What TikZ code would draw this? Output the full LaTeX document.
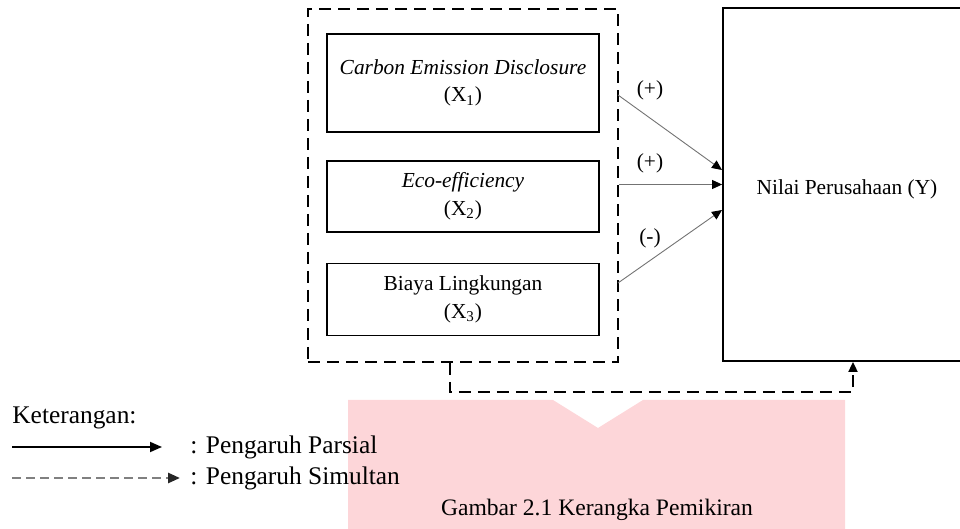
\documentclass[tikz,border=0pt]{standalone}
\usepackage{fontspec}
\setmainfont{Liberation Serif}
\usetikzlibrary{arrows.meta,positioning}
\definecolor{wmpink}{RGB}{253,214,217}

\begin{document}
\begin{tikzpicture}[
  x=0.5pt, y=-0.5pt,
  font=\fontsize{10.7}{13.8}\selectfont,
  node distance=14pt,
  box/.style={draw, line width=0.9pt, align=center, minimum width=136pt, minimum height=36pt, inner sep=0pt},
  dbox/.style={draw, line width=0.9pt, dash pattern=on 6pt off 3.5pt, minimum width=155pt, minimum height=176.5pt, inner sep=0pt},
  arrow/.style={-{Triangle[length=5pt,width=4.5pt,color=black]}, draw=black!55, line width=0.45pt},
  simarrow/.style={-{Triangle[length=5pt,width=4.5pt]}, line width=0.9pt, dash pattern=on 6pt off 3.5pt},
  legtext/.style={anchor=west, inner sep=0pt, font=\fontsize{12.7}{15}\selectfont}
]
\clip (0,0) rectangle (960,529);
% watermark
\fill[wmpink] (348,400) -- (553,400) -- (598,428) -- (643,400) -- (845,400) -- (845,529) -- (348,529) -- cycle;

\node[dbox] (outer) at (463,185.5) {};
\node[box, minimum height=49pt] (x1) at (463,83) {\textit{Carbon Emission Disclosure}\\(X\textsubscript{1})};
\node[box, minimum height=35.5pt, below=13.5pt of x1] (x2) {\textit{Eco-efficiency}\\(X\textsubscript{2})};
\node[box, below=15pt of x2] (x3) {Biaya Lingkungan\\(X\textsubscript{3})};
\node[draw, line width=0.9pt, minimum width=124pt, minimum height=176.5pt, inner sep=0pt, text height=13pt, text depth=2.6pt] (nilai) at (847,184.5) {Nilai Perusahaan (Y)};

% partial effects
\coordinate (s1) at (618,95);
\coordinate (s3) at (618,283);
\coordinate (e1) at (722,170);
\coordinate (e3) at (722,210);
\draw[arrow] (s1) -- (e1);
\draw[arrow] (outer.east |- nilai.west) -- (nilai.west);
\draw[arrow] (s3) -- (e3);
\node (p1) at (650,90) {(+)};
\node (p2) at (650,163) {(+)};
\node (p3) at (650,238) {(-)};

% simultaneous effect
\coordinate (sim1) at (450,392);
\coordinate (sim2) at (853,392);
\draw[simarrow] (outer.south -| sim1) -- (sim1) -- (sim2) -- (nilai.south -| sim2);

% legend
\node[legtext] (ket) at (12,418) {Keterangan:};
\coordinate (l1a) at (12,447);
\coordinate (l1b) at (162,447);
\coordinate (l2a) at (12,478);
\coordinate (l2b) at (180,478);
\draw[-{Triangle[length=6pt,width=5pt]}, line width=0.9pt] (l1a) -- (l1b);
\draw[-{Triangle[length=6pt,width=5pt,color=black!85]}, draw=black!50, line width=1.3pt, dash pattern=on 4.5pt off 2.5pt] (l2a) -- (l2b);
\node[legtext] (parsial) at (190,447) {: Pengaruh Parsial};
\node[legtext] (simultan) at (190,478) {: Pengaruh Simultan};

\node[font=\fontsize{11.8}{14}\selectfont] (caption) at (597,510) {Gambar 2.1 Kerangka Pemikiran};
\end{tikzpicture}
\end{document}
